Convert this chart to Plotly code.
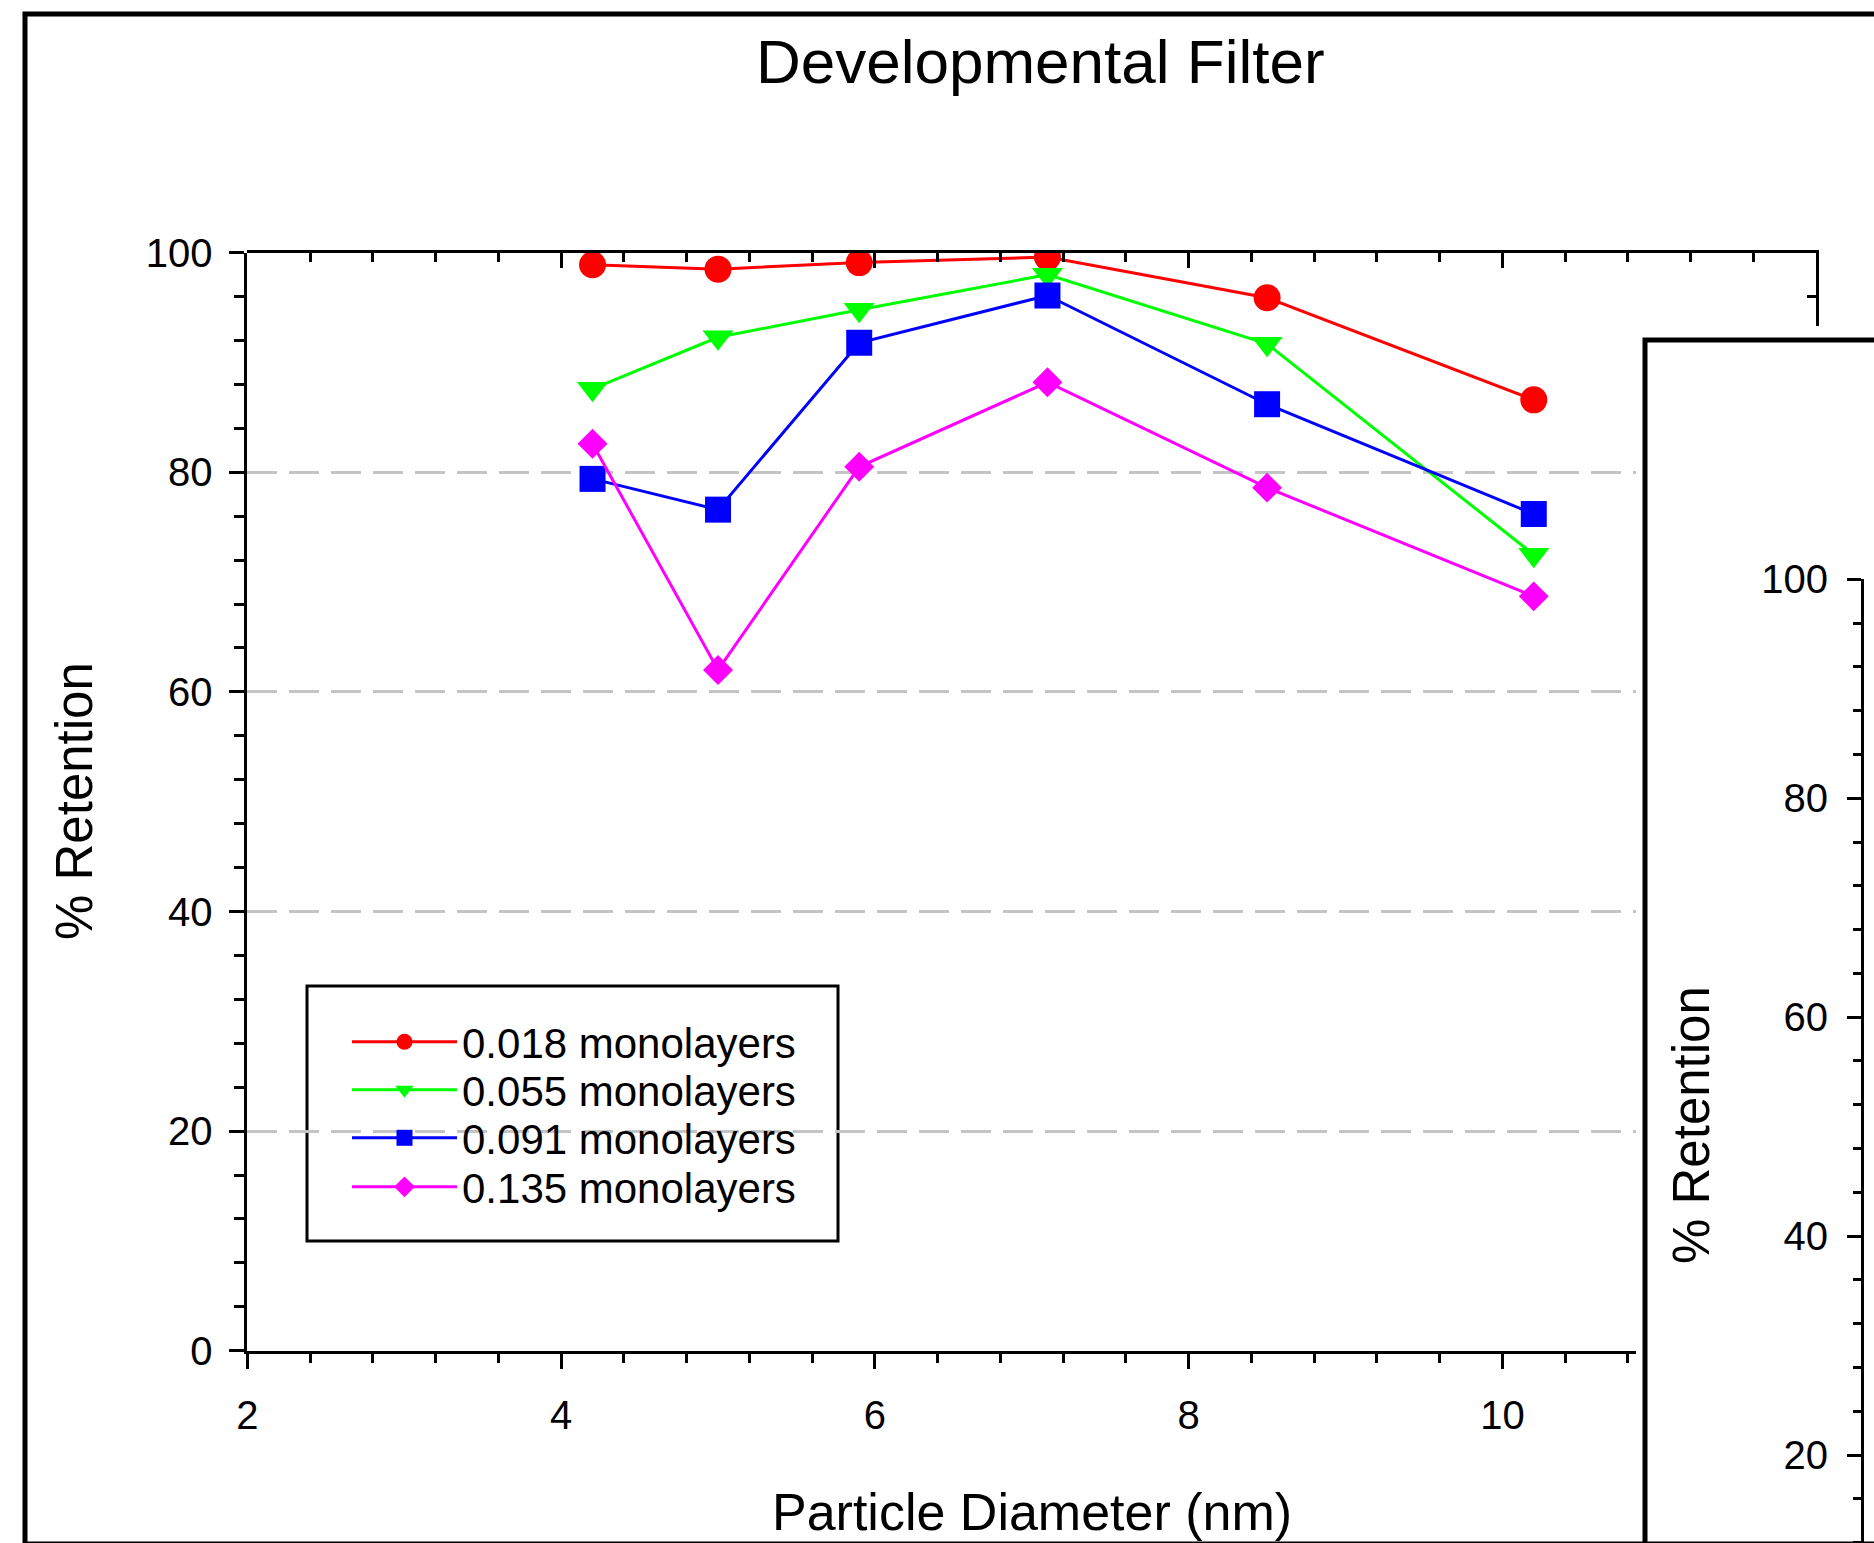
import plotly.graph_objects as go

# ---------------- data ----------------
diameter_nm = [4.2, 5.0, 5.9, 7.1, 8.5, 10.2]
series_names = ["0.018 monolayers", "0.055 monolayers", "0.091 monolayers", "0.135 monolayers"]
ret_0018 = [98.9, 98.5, 99.1, 99.6, 95.9, 86.6]
ret_0055 = [87.6, 92.3, 94.8, 98.0, 91.7, 72.5]
ret_0091 = [79.4, 76.6, 91.8, 96.1, 86.2, 76.2]
ret_0135 = [82.6, 62.0, 80.5, 88.2, 78.6, 68.7]
x_ticks = [2, 4, 6, 8, 10]
y_ticks = [0, 20, 40, 60, 80, 100]
y_ticks_inset = [20, 40, 60, 80, 100]

colors = ["#FF0000", "#00FF00", "#0000FF", "#FF00FF"]
symbols = ["circle", "triangle-down", "square", "diamond"]
msizes = [27, 27, 26, 23]

W, H = 1874, 1543
FONT = "Liberation Sans, Arial, Helvetica, sans-serif"


def px(p):
    return p / W


def py(p):
    return 1 - p / H


# pixel geometry of the main panel
X2PX, X10PX = 247.4, 1502.4
XU = (X10PX - X2PX) / 8.0
Y100, Y0 = 252.7, 1350.7
YU = (Y0 - Y100) / 100.0
XBOT_END = 1636.0
XTOP_END = 1816.0
YRIGHT_END = 326.0

# one legend per entry so that row spacing matches the original
legend_ids = ["legend", "legend2", "legend3", "legend4"]
legend_rows_px = [1042, 1090, 1138, 1187]

fig = go.Figure()

for name, vals, c, s, ms, lid in zip(series_names, [ret_0018, ret_0055, ret_0091, ret_0135],
                                    colors, symbols, msizes, legend_ids):
    fig.add_trace(go.Scatter(
        x=diameter_nm, y=vals, name=name, mode="lines+markers",
        line=dict(color=c, width=3),
        marker=dict(symbol=s, size=ms, color=c, line=dict(width=0)),
        xaxis="x", yaxis="y", legend=lid,
    ))

# dummy traces so the extra axes exist
fig.add_trace(go.Scatter(x=[None], y=[None], xaxis="x2", yaxis="y2", showlegend=False, hoverinfo="skip"))
fig.add_trace(go.Scatter(x=[None], y=[None], xaxis="x3", yaxis="y3", showlegend=False, hoverinfo="skip"))

tickfont = dict(family=FONT, size=40, color="black")

legend_layout = {}
for lid, row in zip(legend_ids, legend_rows_px):
    legend_layout[lid] = dict(
        x=px(347), y=py(row), xanchor="left", yanchor="middle",
        bgcolor="rgba(0,0,0,0)", borderwidth=0,
        font=dict(family=FONT, size=42, color="black"),
        itemwidth=105, tracegroupgap=0,
    )

fig.update_layout(
    template="none",
    width=W, height=H, autosize=False,
    margin=dict(l=0, r=0, t=0, b=0, pad=0, autoexpand=False),
    paper_bgcolor="white", plot_bgcolor="rgba(0,0,0,0)",
    font=dict(family=FONT, color="black"),
    showlegend=True,
    **legend_layout,
    xaxis=dict(
        domain=[px(X2PX), px(XBOT_END)], range=[2, 2 + (XBOT_END - X2PX) / XU],
        anchor="y", side="bottom", automargin=False,
        tickmode="array", tickvals=x_ticks, ticktext=[str(t) for t in x_ticks],
        ticks="outside", ticklen=15, tickwidth=3, tickcolor="black", ticklabelstandoff=12,
        minor=dict(dtick=0.4, tick0=2, ticks="outside", ticklen=9, tickwidth=3, tickcolor="black", showgrid=False),
        showline=True, linewidth=3, linecolor="black",
        showgrid=False, zeroline=False, tickfont=tickfont,
    ),
    xaxis2=dict(
        domain=[px(X2PX), px(XTOP_END)], range=[2, 2 + (XTOP_END - X2PX) / XU],
        anchor="y", side="top", automargin=False,
        dtick=2, tick0=2, ticks="inside", ticklen=15, tickwidth=3, tickcolor="black",
        minor=dict(dtick=0.4, tick0=2, ticks="inside", ticklen=9, tickwidth=3, tickcolor="black", showgrid=False),
        showline=True, linewidth=3, linecolor="black",
        showgrid=False, zeroline=False, showticklabels=False,
    ),
    yaxis=dict(
        domain=[py(Y0), py(Y100)], range=[0, 100],
        anchor="x", side="left", automargin=False,
        tickmode="array", tickvals=y_ticks, ticktext=[str(t) for t in y_ticks],
        ticks="outside", ticklen=15, tickwidth=3, tickcolor="black", ticklabelstandoff=9,
        minor=dict(dtick=4, tick0=0, ticks="outside", ticklen=10, tickwidth=3, tickcolor="black", showgrid=False),
        showline=True, linewidth=3, linecolor="black",
        showgrid=True, gridcolor="#C4C4C4", gridwidth=3, griddash="30px,12px",
        zeroline=False, tickfont=tickfont,
    ),
    yaxis2=dict(
        domain=[py(YRIGHT_END), py(Y100)], range=[100 - (YRIGHT_END - Y100) / YU, 100],
        anchor="x2", side="right", automargin=False,
        dtick=20, tick0=0, ticks="inside", ticklen=15, tickwidth=3, tickcolor="black",
        minor=dict(dtick=4, tick0=0, ticks="inside", ticklen=9, tickwidth=3, tickcolor="black", showgrid=False),
        showline=True, linewidth=3, linecolor="black",
        showgrid=False, zeroline=False, showticklabels=False,
    ),
    xaxis3=dict(domain=[px(1864), 1.0], range=[0, 1], anchor="y3", visible=False, automargin=False),
    yaxis3=dict(
        domain=[0, py(579.3)], range=[20 - (H - 1455) / 10.95, 100],
        anchor="x3", side="left", automargin=False,
        tickmode="array", tickvals=y_ticks_inset, ticktext=[str(t) for t in y_ticks_inset],
        ticks="outside", ticklen=14, tickwidth=3, tickcolor="black", ticklabelstandoff=11,
        minor=dict(dtick=4, tick0=0, ticks="outside", ticklen=8, tickwidth=3, tickcolor="black", showgrid=False),
        showline=True, linewidth=3, linecolor="black",
        showgrid=False, zeroline=False, tickfont=tickfont,
    ),
)

shapes = [
    # outer frame
    dict(type="rect", xref="paper", yref="paper", x0=px(25), y0=py(14), x1=1.05, y1=py(1544),
         line=dict(color="black", width=5), fillcolor="rgba(0,0,0,0)", layer="above"),
    # second panel frame
    dict(type="rect", xref="paper", yref="paper", x0=px(1645), y0=py(340), x1=1.05, y1=-0.05,
         line=dict(color="black", width=5), fillcolor="rgba(0,0,0,0)", layer="above"),
    # legend box
    dict(type="rect", xref="paper", yref="paper", x0=px(307), y0=py(986), x1=px(838), y1=py(1241),
         line=dict(color="black", width=3), fillcolor="white", layer="below"),
]
fig.update_layout(shapes=shapes)

annotations = [
    dict(text="Developmental Filter", x=px(1040), y=py(62), xref="paper", yref="paper",
         showarrow=False, xanchor="center", yanchor="middle", font=dict(family=FONT, size=62, color="black")),
    dict(text="Particle Diameter (nm)", x=px(1032), y=py(1512), xref="paper", yref="paper",
         showarrow=False, xanchor="center", yanchor="middle", font=dict(family=FONT, size=52, color="black")),
    dict(text="% Retention", x=px(74), y=py(801), xref="paper", yref="paper", textangle=-90,
         showarrow=False, xanchor="center", yanchor="middle", font=dict(family=FONT, size=51, color="black")),
    dict(text="% Retention", x=px(1691), y=py(1125), xref="paper", yref="paper", textangle=-90,
         showarrow=False, xanchor="center", yanchor="middle", font=dict(family=FONT, size=51, color="black")),
]
fig.update_layout(annotations=annotations)

fig.write_html("out.html")
